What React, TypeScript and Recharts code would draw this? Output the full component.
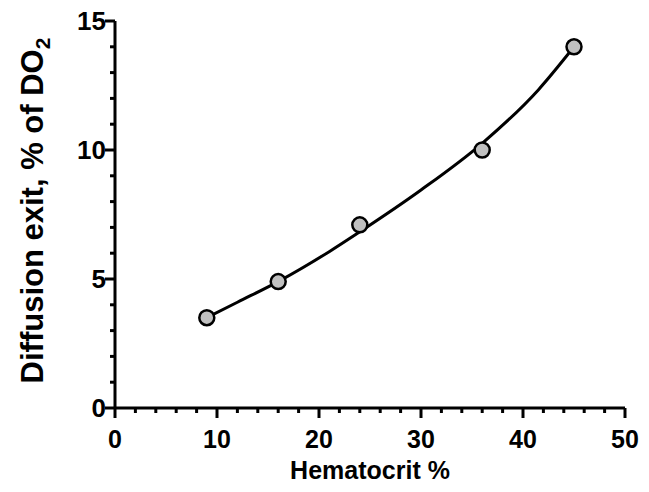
import { ComposedChart, Line, Scatter, XAxis, YAxis } from "recharts";

// measured points
const hematocrit = [9, 16, 24, 36, 45];
const diffusionExit = [3.5, 4.9, 7.1, 10.0, 14.0];

// fitted curve
const fitHct = [9, 12, 16, 21, 24, 30, 36, 41.5, 45];
const fitExit = [3.5, 4.1, 4.9, 6.06, 6.83, 8.45, 10.26, 12.33, 14.0];

const xTicks = [0, 2, 4, 6, 8, 10, 12, 14, 16, 18, 20, 22, 24, 26, 28, 30, 32, 34, 36, 38, 40, 42, 44, 46, 48, 50];
const xLabelled = [0, 10, 20, 30, 40, 50];
const yTicks = [0, 1, 2, 3, 4, 5, 6, 7, 8, 9, 10, 11, 12, 13, 14, 15];
const yLabelled = [0, 5, 10, 15];

const points = hematocrit.map((h, i) => ({ hct: h, exit: diffusionExit[i] }));
const fit = fitHct.map((h, i) => ({ hct: h, exit: fitExit[i] }));

const FONT = '"Liberation Sans", Arial, sans-serif';

const XTick = (props: any) => {
  const { x, y, payload } = props;
  const major = xLabelled.includes(payload.value);
  return (
    <g>
      <line x1={x} y1={y} x2={x} y2={y + (major ? 10 : 5)} stroke="#000" strokeWidth={3} />
      {major && (
        <text x={x} y={y + 40} textAnchor="middle" fontFamily={FONT} fontWeight="bold" fontSize={25} fill="#000">
          {payload.value}
        </text>
      )}
    </g>
  );
};

const YTick = (props: any) => {
  const { x, y, payload } = props;
  const major = yLabelled.includes(payload.value);
  return (
    <g>
      <line x1={x} y1={y} x2={x - (major ? 10 : 5)} y2={y} stroke="#000" strokeWidth={3} />
      {major && (
        <text x={x - 9} y={y + 9} textAnchor="end" fontFamily={FONT} fontWeight="bold" fontSize={26} fill="#000">
          {payload.value}
        </text>
      )}
    </g>
  );
};

const XTitle = (props: any) => {
  const { viewBox } = props;
  const cx = viewBox.x + viewBox.width / 2;
  return (
    <text x={cx} y={479} textAnchor="middle" fontFamily={FONT} fontWeight="bold" fontSize={25} fill="#000">
      Hematocrit %
    </text>
  );
};

const YTitle = (props: any) => {
  const { viewBox } = props;
  const cy = viewBox.y + viewBox.height / 2 - 4;
  return (
    <text
      x={43}
      y={cy}
      transform={`rotate(-90 43 ${cy})`}
      textAnchor="middle"
      fontFamily={FONT}
      fontWeight="bold"
      fontSize={31}
      fill="#000"
    >
      Diffusion exit, % of DO
      <tspan fontSize={21} dy={7}>2</tspan>
    </text>
  );
};

const Dot = (props: any) => {
  const { cx, cy } = props;
  return <circle cx={cx} cy={cy} r={7.5} fill="#c0c0c0" stroke="#000" strokeWidth={2.5} />;
};

export default function App() {
  return (
    <div style={{ position: "absolute", left: 0, top: 0, width: 649, height: 492, background: "#fff" }}>
      <ComposedChart width={649} height={492} margin={{ top: 21, right: 24, bottom: 0, left: 0 }}>
        <XAxis
          type="number"
          dataKey="hct"
          domain={[0, 50]}
          ticks={xTicks}
          interval={0}
          tickSize={0}
          tickMargin={0}
          tickLine={false}
          tick={<XTick />}
          axisLine={{ stroke: "#000", strokeWidth: 3 }}
          height={84}
          label={<XTitle />}
        />
        <YAxis
          type="number"
          dataKey="exit"
          domain={[0, 15]}
          ticks={yTicks}
          interval={0}
          tickSize={0}
          tickMargin={0}
          tickLine={false}
          tick={<YTick />}
          axisLine={{ stroke: "#000", strokeWidth: 3 }}
          width={115}
          label={<YTitle />}
        />
        <Line
          data={fit}
          dataKey="exit"
          type="monotone"
          stroke="#000"
          strokeWidth={3}
          dot={false}
          activeDot={false}
          isAnimationActive={false}
        />
        <Scatter data={points} dataKey="exit" shape={<Dot />} isAnimationActive={false} />
      </ComposedChart>
    </div>
  );
}
